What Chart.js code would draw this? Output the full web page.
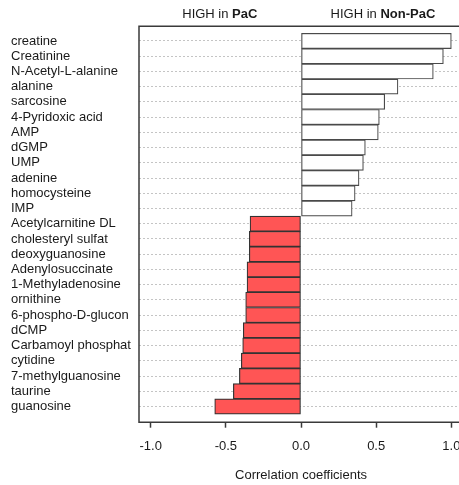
<!DOCTYPE html>
<html>
<head>
<meta charset="utf-8">
<script src="https://cdn.jsdelivr.net/npm/chart.js@4/dist/chart.umd.min.js"></script>
<style>
  html, body { margin: 0; padding: 0; background: #fff; }
  #wrap { width: 459px; height: 485px; }
</style>
</head>
<body>
<div id="wrap"><canvas id="chart"></canvas></div>
<script>
const metabolites = [
  'creatine', 'Creatinine', 'N-Acetyl-L-alanine', 'alanine', 'sarcosine',
  '4-Pyridoxic acid', 'AMP', 'dGMP', 'UMP', 'adenine', 'homocysteine', 'IMP',
  'Acetylcarnitine DL', 'cholesteryl sulfat', 'deoxyguanosine', 'Adenylosuccinate',
  '1-Methyladenosine', 'ornithine', '6-phospho-D-glucon', 'dCMP',
  'Carbamoyl phosphat', 'cytidine', '7-methylguanosine', 'taurine', 'guanosine',
];
const coefficients = [
  1.0, 0.947, 0.88, 0.645, 0.557, 0.521, 0.514, 0.428, 0.415, 0.386, 0.36, 0.34,
  -0.339, -0.344, -0.344, -0.359, -0.359, -0.368, -0.368, -0.384, -0.388, -0.397,
  -0.41, -0.45, -0.574,
];
const xTicks = [-1, -0.5, 0, 0.5, 1];
const headers = [
  { at: -0.54, plain: 'HIGH in ', bold: 'PaC' },
  { at: 0.545, plain: 'HIGH in ', bold: 'Non-PaC' },
];
const xTitle = 'Correlation coefficients';

const FONT = '"Liberation Sans", Arial, sans-serif';
const INK = '#1a1a1a';
const LINE = '#3a3a3a';

const points = coefficients.map((v, i) => ({ x: v, y: i }));

// frame around the plot (right side runs off the page), headers and axis title
const decorations = {
  id: 'decorations',
  afterDraw(chart) {
    const { ctx, chartArea: a, scales } = chart;
    ctx.save();
    ctx.strokeStyle = LINE;
    ctx.lineWidth = 1.5;
    ctx.beginPath();
    ctx.moveTo(a.right + 2, a.top + 0.5);
    ctx.lineTo(a.left + 0.5, a.top + 0.5);
    ctx.lineTo(a.left + 0.5, a.bottom + 0.5);
    ctx.lineTo(a.right + 2, a.bottom + 0.5);
    ctx.stroke();

    ctx.fillStyle = INK;
    ctx.textBaseline = 'middle';
    ctx.textAlign = 'left';
    headers.forEach((h) => {
      ctx.font = '13px ' + FONT;
      const w1 = ctx.measureText(h.plain).width;
      ctx.font = 'bold 13px ' + FONT;
      const w2 = ctx.measureText(h.bold).width;
      const x0 = scales.x.getPixelForValue(h.at) - (w1 + w2) / 2;
      ctx.font = '13px ' + FONT;
      ctx.fillText(h.plain, x0, 14);
      ctx.font = 'bold 13px ' + FONT;
      ctx.fillText(h.bold, x0 + w1, 14);
    });

    ctx.font = '13px ' + FONT;
    ctx.textAlign = 'center';
    ctx.fillText(xTitle, scales.x.getPixelForValue(0), 475);
    ctx.restore();
  },
};

new Chart(document.getElementById('chart'), {
  type: 'bar',
  data: {
    datasets: [{
      data: points,
      backgroundColor: coefficients.map((v) => (v >= 0 ? '#ffffff' : '#ff5555')),
      borderColor: coefficients.map((v) => (v >= 0 ? '#4a4a4a' : '#333333')),
      borderWidth: 1.2,
      borderSkipped: false,
      barPercentage: 1,
      categoryPercentage: 1,
    }],
  },
  options: {
    indexAxis: 'y',
    responsive: true,
    maintainAspectRatio: false,
    animation: false,
    layout: { padding: { left: 11, top: 25.7, right: 0, bottom: 0 } },
    plugins: {
      legend: { display: false },
      tooltip: { enabled: false },
    },
    scales: {
      y: {
        type: 'linear',
        reverse: true,
        offset: false,
        min: -1,
        max: metabolites.length,
        afterBuildTicks(scale) {
          scale.ticks = metabolites.map((_, i) => ({ value: i }));
        },
        afterFit(scale) {
          scale.width = 127.5;
          scale.paddingTop = 0;
          scale.paddingBottom = 0;
        },
        ticks: {
          crossAlign: 'far',
          padding: 0,
          autoSkip: false,
          color: INK,
          font: { family: FONT, size: 13 },
          callback: (v) => metabolites[v],
        },
        grid: {
          color: '#c4c4c4',
          lineWidth: 1,
          drawTicks: false,
          offset: false,
        },
        border: { display: false, dash: [2, 2] },
      },
      x: {
        type: 'linear',
        min: -1.081,
        max: 1.051,
        afterBuildTicks(scale) {
          scale.ticks = xTicks.map((v) => ({ value: v }));
        },
        afterFit(scale) {
          scale.height = 63.3;
          scale.paddingLeft = 0;
          scale.paddingRight = 0;
        },
        ticks: {
          padding: 11,
          maxRotation: 0,
          color: INK,
          font: { family: FONT, size: 13 },
          callback: (v) => v.toFixed(1),
        },
        grid: {
          drawOnChartArea: false,
          drawTicks: true,
          tickLength: 6,
          tickWidth: 1.5,
          tickColor: LINE,
        },
        border: { display: false },
      },
    },
  },
  plugins: [decorations],
});
</script>
</body>
</html>
